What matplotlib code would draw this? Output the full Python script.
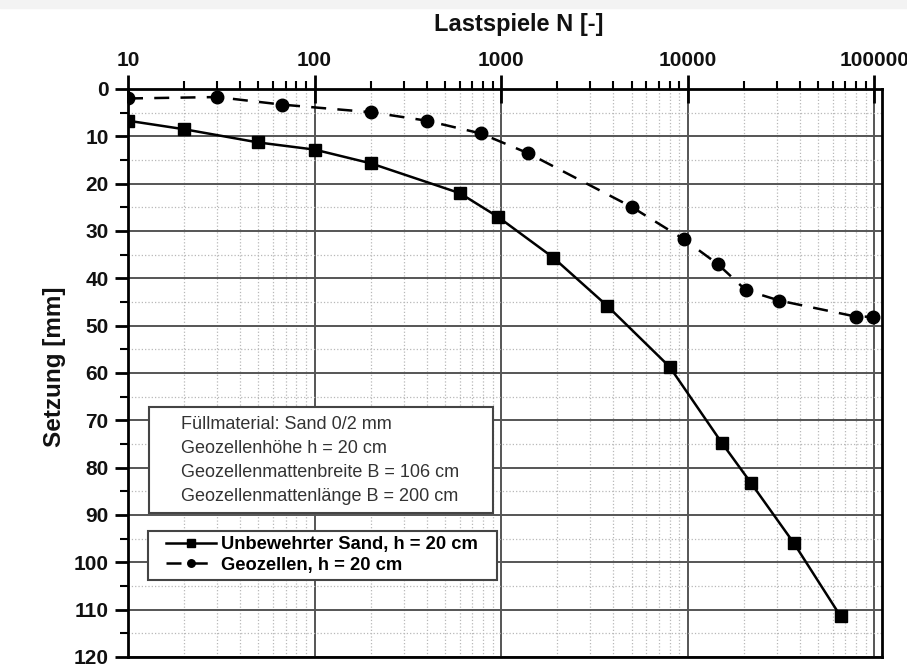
import matplotlib
matplotlib.use('Agg')
import matplotlib.pyplot as plt
from matplotlib.ticker import LogLocator, MultipleLocator, NullFormatter
from matplotlib.patches import Rectangle

plt.rcParams['font.family'] = ['Liberation Sans', 'DejaVu Sans']

# Lastspiele N / Setzung [mm]
n_sand = [10, 20, 50, 100, 200, 600, 960, 1900, 3700, 8000, 15200, 21800, 37000, 66000]
s_sand = [6.7, 8.5, 11.3, 12.8, 15.7, 22.0, 27.0, 35.6, 45.8, 58.7, 74.7, 83.2, 95.9, 111.4]
n_geo = [10, 30, 67, 200, 400, 780, 1400, 5000, 9500, 14500, 20500, 31000, 80000, 98000]
s_geo = [2.0, 1.7, 3.3, 4.9, 6.7, 9.4, 13.6, 24.9, 31.7, 37.0, 42.5, 44.7, 48.1, 48.1]

x_ticks = [10, 100, 1000, 10000, 100000]
y_ticks = list(range(0, 121, 10))

label_sand = 'Unbewehrter Sand, h = 20 cm'
label_geo = 'Geozellen, h = 20 cm'
info_lines = ['F\u00fcllmaterial: Sand 0/2 mm',
              'Geozellenh\u00f6he h = 20 cm',
              'Geozellenmattenbreite B = 106 cm',
              'Geozellenmattenl\u00e4nge B = 200 cm']

fig = plt.figure(figsize=(9.07, 6.64), dpi=100)
fig.patches.append(Rectangle((0, 1 - 8/664.), 1, 8/664., transform=fig.transFigure,
                             color='#f3f3f3', zorder=0))
ax = fig.add_axes([128/907., 1 - 657/664., 754/907., 568/664.])

ax.plot(n_sand, s_sand, color='black', lw=1.8, marker='s', ms=9, label=label_sand, zorder=4)
ax.plot(n_geo, s_geo, color='black', lw=1.8, ls=(0, (6, 4.5)), marker='o', ms=9,
        label=label_geo, zorder=4)

ax.set_xscale('log')
ax.set_xlim(10, 1.1e5)
ax.set_ylim(120, 0)
ax.xaxis.tick_top()
ax.set_xticks(x_ticks, labels=[str(v) for v in x_ticks])
ax.xaxis.set_minor_locator(LogLocator(base=10, subs=range(2, 10)))
ax.xaxis.set_minor_formatter(NullFormatter())
ax.set_yticks(y_ticks)
ax.yaxis.set_minor_locator(MultipleLocator(5))

for sp in ax.spines.values():
    sp.set_linewidth(2)
    sp.set_color('black')

ax.tick_params(axis='x', which='major', direction='inout', length=20, width=2, pad=4)
ax.tick_params(axis='x', which='minor', direction='out', length=6, width=1.5)
ax.tick_params(axis='y', which='major', direction='out', length=9.5, width=2, pad=4.5)
ax.tick_params(axis='y', which='minor', direction='out', length=6, width=1.5)
ax.tick_params(which='both', right=False, bottom=False)
for t in ax.get_xticklabels() + ax.get_yticklabels():
    t.set_fontsize(15)
    t.set_fontweight('bold')
    t.set_color('#111111')

ax.grid(which='major', color='#555555', lw=1.4)
ax.grid(which='minor', color='#b8b8b8', lw=0.9, ls=':')
ax.set_axisbelow(True)

fig.text(519/907., 1 - 24/664., 'Lastspiele N [-]', ha='center', va='center',
         fontsize=17, fontweight='bold', color='#111111')
fig.text(54/907., 1 - 367/664., 'Setzung [mm]', ha='center', va='center', rotation=90,
         fontsize=17.5, fontweight='bold', color='#111111')

# Info box
ax.add_patch(Rectangle((0.028, 0.254), 0.456, 0.186, transform=ax.transAxes,
                       facecolor='white', edgecolor='#444444', lw=1.5, zorder=5))
ax.text(0.0703, 0.44 - 0.015, '\n'.join(info_lines), transform=ax.transAxes,
        ha='left', va='top', fontsize=13, color='#333333', linespacing=1.55, zorder=6)

# Legend box
ax.add_patch(Rectangle((0.0265, 0.136), 0.463, 0.086, transform=ax.transAxes,
                       facecolor='white', edgecolor='#444444', lw=1.5, zorder=5))
leg = ax.legend(loc='upper left', bbox_to_anchor=(0.051, 0.213), borderaxespad=0,
                frameon=False, handlelength=2.7, handletextpad=0.25, markerscale=0.6,
                borderpad=0, labelspacing=0.2, prop={'weight': 'bold', 'size': 13.2})
leg.set_zorder(6)

fig.savefig('out.png', dpi=100)
